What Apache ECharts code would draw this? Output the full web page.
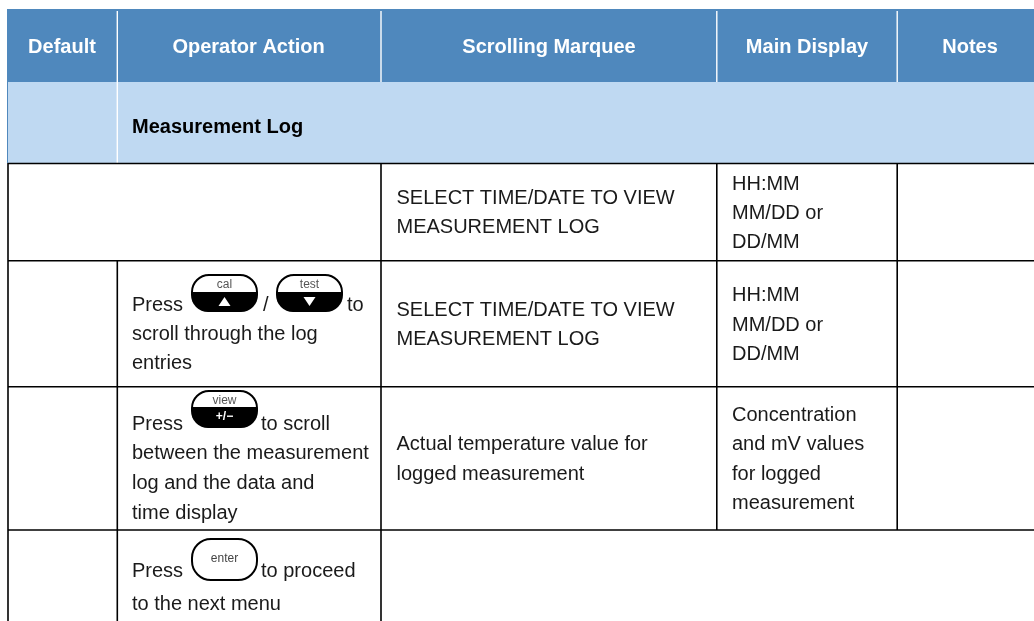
<!DOCTYPE html>
<html>
<head>
<meta charset="utf-8">
<title>Measurement Log</title>
<style>
  html, body { margin: 0; padding: 0; background: #fff; }
  #chart { width: 1034px; height: 621px; }
</style>
<script src="https://cdn.jsdelivr.net/npm/echarts@6/dist/echarts.min.js"></script>
</head>
<body>
<div id="chart"></div>
<script>
  // table content
  const headerLabels = ['Default', 'Operator Action', 'Scrolling Marquee', 'Main Display', 'Notes']
  const sectionTitle = 'Measurement Log'
  const actionLines = [
    'Press', '/', 'to', 'scroll through the log', 'entries',
    'Press', 'to scroll', 'between the measurement', 'log and the data and', 'time display',
    'Press', 'to proceed', 'to the next menu'
  ]
  const marqueeLines = [
    'SELECT TIME/DATE TO VIEW', 'MEASUREMENT LOG',
    'SELECT TIME/DATE TO VIEW', 'MEASUREMENT LOG',
    'Actual temperature value for', 'logged measurement'
  ]
  const displayLines = [
    'HH:MM', 'MM/DD or', 'DD/MM',
    'HH:MM', 'MM/DD or', 'DD/MM',
    'Concentration', 'and mV values', 'for logged', 'measurement'
  ]
  const keyLabels = ['cal', 'test', 'view', 'enter']

  // table layout, in page pixels
  const columnRules = [117.3, 381, 716.8, 897.2]
  const headerCenters = [62, 248.5, 549, 807, 970]
  const actionPos = [
    [132, 305], [263, 305], [347, 305], [132, 334], [132, 363],
    [132, 424], [261, 424], [132, 453], [132, 483], [132, 513],
    [132, 571], [261, 571], [132, 604]
  ]
  const marqueeY = [198, 227, 310, 339, 444, 474]
  const displayY = [184, 213, 242, 295, 325, 354, 415, 444, 474, 503]
  const keyPos = [[192, 275, 293], [277, 275, 293], [192, 391, 408], [192, 539, 0]]

  const HEADER_BLUE = '#4f88bd'
  const BAND_BLUE = '#bfd9f2'
  const FONT = '"Liberation Sans", Arial, sans-serif'
  const KEY_W = 65
  const KEY_H = 37

  const chart = echarts.init(document.getElementById('chart'), null, { renderer: 'canvas' })

  function layer(items, draw) {
    return {
      type: 'custom',
      coordinateSystem: 'cartesian2d',
      silent: true,
      animation: false,
      clip: false,
      data: items.map((d, i) => [i, 0]),
      renderItem: (params, api) => draw(items[params.dataIndex], api)
    }
  }

  function label(text, x, y, opts) {
    const o = opts || {}
    return {
      type: 'text',
      x: x,
      y: y,
      scaleX: o.scaleX || 1,
      style: {
        text: text,
        fill: o.fill || '#1a1a1a',
        font: (o.weight || 'normal') + ' ' + (o.size || 20) + 'px ' + FONT,
        textAlign: o.align || 'left',
        textVerticalAlign: 'middle'
      }
    }
  }

  function rectEl(api, x0, y0, x1, y1, fill) {
    const a = api.coord([x0, y0])
    const b = api.coord([x1, y1])
    return { type: 'rect', shape: { x: a[0], y: a[1], width: b[0] - a[0], height: b[1] - a[1] }, style: { fill: fill } }
  }

  function lineEl(api, x0, y0, x1, y1, color, w) {
    const a = api.coord([x0, y0])
    const b = api.coord([x1, y1])
    return { type: 'line', shape: { x1: a[0], y1: a[1], x2: b[0], y2: b[1] }, style: { stroke: color, lineWidth: w } }
  }

  const fills = [
    [7, 9, 1034, 82, HEADER_BLUE],
    [7, 82, 8.3, 163, HEADER_BLUE],
    [8.3, 82, 1034, 163, BAND_BLUE]
  ]

  const whiteRules = [
    [columnRules[0], 11, columnRules[0], 163],
    [columnRules[1], 11, columnRules[1], 82],
    [columnRules[2], 11, columnRules[2], 82],
    [columnRules[3], 11, columnRules[3], 82]
  ]

  const blackRules = [
    [8, 163.5, 1034, 163.5],
    [8, 260.7, 1034, 260.7],
    [8, 386.8, 1034, 386.8],
    [8, 530, 1034, 530],
    [8, 163, 8, 621],
    [columnRules[0], 260.7, columnRules[0], 621],
    [columnRules[1], 163, columnRules[1], 621],
    [columnRules[2], 163, columnRules[2], 530],
    [columnRules[3], 163, columnRules[3], 530]
  ]

  const keys = keyLabels.map((t, i) => ({ text: t, pos: keyPos[i], index: i }))

  function drawKey(k, api) {
    const x = api.coord([k.pos[0], k.pos[1]])
    const x0 = x[0]
    const y0 = x[1]
    const r = 17
    const children = []
    if (k.text === 'enter') {
      children.push({
        type: 'rect',
        shape: { x: x0, y: y0, width: KEY_W, height: KEY_H + 4, r: 19 },
        style: { fill: '#fff', stroke: '#000', lineWidth: 2 }
      })
      children.push(label(k.text, x0 + KEY_W / 2, y0 + 20, { size: 12, align: 'center', fill: '#444' }))
      return { type: 'group', children: children }
    }
    const split = k.pos[2] - k.pos[1]
    children.push({
      type: 'rect',
      shape: { x: x0, y: y0, width: KEY_W, height: split, r: [r, r, 0, 0] },
      style: { fill: '#fff', stroke: '#000', lineWidth: 2 }
    })
    children.push({
      type: 'rect',
      shape: { x: x0 - 1, y: y0 + split, width: KEY_W + 2, height: KEY_H - split, r: [0, 0, r, r] },
      style: { fill: '#000' }
    })
    children.push(label(k.text, x0 + KEY_W / 2, y0 + 10, { size: 12, align: 'center', fill: '#555' }))
    const cx = x0 + KEY_W / 2
    const cy = y0 + split + 9
    if (k.text === 'cal') {
      children.push({ type: 'polygon', shape: { points: [[cx - 6, cy + 4], [cx + 6, cy + 4], [cx, cy - 5]] }, style: { fill: '#fff' } })
    } else if (k.text === 'test') {
      children.push({ type: 'polygon', shape: { points: [[cx - 6, cy - 5], [cx + 6, cy - 5], [cx, cy + 4]] }, style: { fill: '#fff' } })
    } else {
      children.push(label('+/\u2212', cx, cy, { size: 12, weight: 'bold', align: 'center', fill: '#fff' }))
    }
    return { type: 'group', children: children }
  }

  const headerItems = headerLabels.map((t, i) => ({ text: t, x: headerCenters[i], y: 47 }))
  const actionItems = actionLines.map((t, i) => ({ text: t, x: actionPos[i][0], y: actionPos[i][1] }))
  const marqueeItems = marqueeLines.map((t, i) => ({ text: t, x: 396.5, y: marqueeY[i] }))
  const displayItems = displayLines.map((t, i) => ({ text: t, x: 732, y: displayY[i] }))
  const bodyItems = actionItems.concat(marqueeItems, displayItems)

  chart.setOption({
    animation: false,
    backgroundColor: '#fff',
    grid: { left: 0, right: 0, top: 0, bottom: 0 },
    xAxis: { type: 'value', min: 0, max: 1034, show: false },
    yAxis: { type: 'value', min: 0, max: 621, inverse: true, show: false },
    series: [
      layer(fills, (d, api) => rectEl(api, d[0], d[1], d[2], d[3], d[4])),
      layer(whiteRules, (d, api) => lineEl(api, d[0], d[1], d[2], d[3], '#fff', 1.4)),
      layer(blackRules, (d, api) => lineEl(api, d[0], d[1], d[2], d[3], '#000', 1.6)),
      layer(headerItems, (d, api) => {
        const p = api.coord([d.x, d.y])
        return label(d.text, p[0], p[1], { fill: '#fff', weight: 'bold', align: 'center' })
      }),
      layer([sectionTitle], (d, api) => {
        const p = api.coord([132, 127])
        return label(d, p[0], p[1], { fill: '#000', weight: 'bold' })
      }),
      layer(bodyItems, (d, api) => {
        const p = api.coord([d.x, d.y])
        return label(d.text, p[0], p[1])
      }),
      layer(keys, drawKey)
    ]
  })
</script>
</body>
</html>
